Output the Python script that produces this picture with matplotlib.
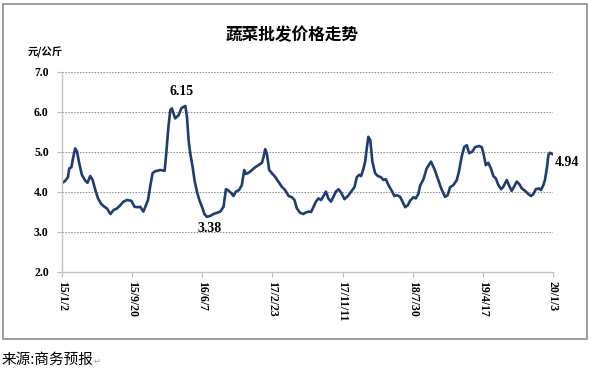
import matplotlib
matplotlib.use("Agg")
import matplotlib.pyplot as plt
import numpy as np
from matplotlib.patches import Rectangle

plt.rcParams["font.family"] = ["Noto Sans CJK SC", "DejaVu Sans"]

start = np.datetime64("2015-01-02")
# days since 15/1/2 and price (元/公斤)
day = [0, 12, 22, 27, 35, 41, 49, 56, 64, 74, 87, 95, 105, 114, 124, 134, 146, 158, 167, 180,
       192, 205, 217, 229, 242, 258, 270, 283, 291, 303, 320, 328, 337, 347, 366, 382, 388, 396, 403, 409,
       421, 434, 444, 452, 459, 465, 471, 477, 486, 493, 502, 511, 521, 530, 539, 551, 564, 576, 589, 601,
       610, 617, 630, 638, 647, 659, 669, 678, 684, 694, 707, 719, 731, 744, 750, 756, 762, 771, 781, 793,
       805, 818, 830, 843, 855, 865, 874, 886, 898, 905, 917, 927, 936, 945, 954, 964, 973, 982, 991, 1001,
       1010, 1019, 1029, 1039, 1051, 1064, 1076, 1088, 1097, 1106, 1113, 1122, 1128, 1134, 1140, 1147, 1155, 1165, 1175, 1187,
       1196, 1205, 1215, 1227, 1237, 1246, 1258, 1267, 1277, 1287, 1295, 1308, 1316, 1326, 1332, 1345, 1357, 1373, 1386, 1398,
       1411, 1425, 1435, 1444, 1456, 1469, 1477, 1487, 1497, 1506, 1515, 1527, 1537, 1552, 1562, 1568, 1577, 1586, 1596, 1605,
       1614, 1624, 1634, 1642, 1655, 1663, 1673, 1682, 1692, 1701, 1711, 1723, 1735, 1745, 1754, 1763, 1775, 1782, 1791, 1797,
       1804, 1810, 1816, 1827]
price = [4.22, 4.28, 4.37, 4.59, 4.62, 4.84, 5.09, 5.01, 4.72, 4.43, 4.28, 4.23, 4.40, 4.30, 4.05, 3.84, 3.70, 3.63, 3.59, 3.45,
         3.55, 3.59, 3.67, 3.76, 3.80, 3.78, 3.63, 3.62, 3.63, 3.51, 3.80, 4.13, 4.47, 4.52, 4.55, 4.53, 4.97, 5.63, 6.05, 6.09,
         5.84, 5.92, 6.09, 6.13, 6.15, 5.88, 5.30, 4.97, 4.63, 4.30, 4.01, 3.80, 3.63, 3.45, 3.38, 3.40, 3.45, 3.48, 3.51, 3.63,
         4.07, 4.05, 3.97, 3.90, 4.01, 4.05, 4.17, 4.55, 4.45, 4.48, 4.55, 4.62, 4.67, 4.73, 4.88, 5.07, 4.97, 4.55, 4.47, 4.38,
         4.26, 4.13, 4.05, 3.90, 3.87, 3.80, 3.59, 3.48, 3.45, 3.48, 3.51, 3.50, 3.63, 3.76, 3.84, 3.80, 3.90, 4.01, 3.84, 3.76,
         3.88, 4.01, 4.07, 3.98, 3.82, 3.90, 4.01, 4.12, 4.37, 4.43, 4.40, 4.59, 4.76, 5.09, 5.38, 5.30, 4.76, 4.47, 4.40, 4.37,
         4.30, 4.32, 4.17, 4.03, 3.90, 3.92, 3.88, 3.76, 3.62, 3.67, 3.78, 3.87, 3.84, 3.95, 4.15, 4.32, 4.59, 4.76, 4.57, 4.34,
         4.09, 3.88, 3.92, 4.12, 4.17, 4.30, 4.51, 4.88, 5.13, 5.17, 4.97, 5.01, 5.12, 5.15, 5.12, 4.97, 4.67, 4.73, 4.59, 4.40,
         4.34, 4.17, 4.07, 4.13, 4.30, 4.17, 4.03, 4.13, 4.26, 4.20, 4.09, 4.03, 3.95, 3.90, 3.95, 4.07, 4.09, 4.05, 4.17, 4.30,
         4.59, 4.93, 4.98, 4.94]
tick_days = [0, 261, 522, 783, 1044, 1305, 1566, 1827]
tick_labels = ["15/1/2", "15/9/20", "16/6/7", "17/2/23", "17/11/11", "18/7/30", "19/4/17", "20/1/3"]

dates = start + np.array(day, dtype="timedelta64[D]")
tick_dates = start + np.array(tick_days, dtype="timedelta64[D]")

fig = plt.figure(figsize=(5.9, 3.76), dpi=100)
ax = fig.add_axes([62 / 590, 1 - 272 / 376, 491 / 590, 200 / 376])

# outer chart frame
fig.patches.append(Rectangle((3 / 590, 1 - 339 / 376), 584 / 590, 335 / 376,
                             transform=fig.transFigure, fill=False, edgecolor="#8c8c8c", lw=1.2))

ax.plot(dates, price, color="#1f3d70", lw=1.9, solid_joinstyle="round")

ax.set_ylim(2, 7)
ax.set_xlim(tick_dates[0], tick_dates[-1])
ax.set_yticks([2, 3, 4, 5, 6, 7])
ax.set_yticklabels(["2.0", "3.0", "4.0", "5.0", "6.0", "7.0"], family="Liberation Serif",
                   fontweight="bold", fontsize=8.5)
ax.set_xticks(tick_dates)
ax.set_xticklabels(tick_labels, rotation=-90, family="Liberation Serif", fontweight="bold", fontsize=8.5)
ax.tick_params(axis="both", length=3.5, color="#bdbdbd", width=0.8)
ax.tick_params(axis="y", pad=6)
ax.tick_params(axis="x", pad=3)

for s in ["top", "right"]:
    ax.spines[s].set_visible(False)
for s in ["left", "bottom"]:
    ax.spines[s].set_color("#c4c4c4")
    ax.spines[s].set_linewidth(1.0)

for y in [3, 4, 5, 6, 7]:
    ax.axhline(y, color="#8a8a8a", lw=0.7, ls=(0, (1.5, 1.5)), zorder=0)

ax.annotate("6.15", (dates[44], price[44]), xytext=(-3, 6), textcoords="offset points",
            ha="center", va="bottom", family="Liberation Serif", fontweight="bold", fontsize=10)
ax.annotate("3.38", (dates[54], price[54]), xytext=(2, -4), textcoords="offset points",
            ha="center", va="top", family="Liberation Serif", fontweight="bold", fontsize=10)
ax.annotate("4.94", (dates[-1], price[-1]), xytext=(1, -6), textcoords="offset points",
            ha="left", va="center", family="Liberation Serif", fontweight="bold", fontsize=10)

fig.text(292 / 590, 1 - 35 / 376, "蔬菜批发价格走势", ha="center", va="center",
         fontsize=12, fontweight="bold")
fig.text(45 / 590, 1 - 52 / 376, "元/公斤", ha="center", va="center", fontsize=7.5, fontweight="bold")
fig.text(2 / 590, 1 - 360 / 376, "来源:商务预报", ha="left", va="center", fontsize=10.5)
fig.text(94 / 590, 1 - 361 / 376, "↵", ha="left", va="center", fontsize=6, color="#9a9a9a",
         family=["DejaVu Sans"])

fig.savefig("out.png", dpi=100)
